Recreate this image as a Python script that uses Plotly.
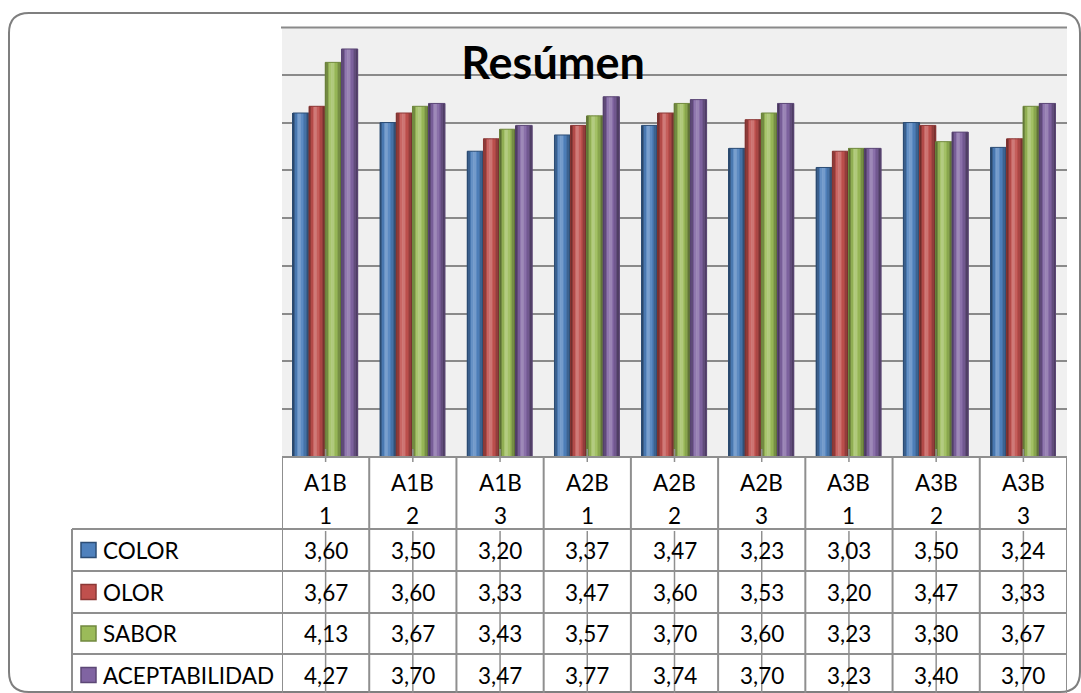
import plotly.graph_objects as go

# ---- data ----
categories = ["A1B1", "A1B2", "A1B3", "A2B1", "A2B2", "A2B3", "A3B1", "A3B2", "A3B3"]
series_names = ["COLOR", "OLOR", "SABOR", "ACEPTABILIDAD"]
color_vals = [3.60, 3.50, 3.20, 3.37, 3.47, 3.23, 3.03, 3.50, 3.24]
olor_vals = [3.67, 3.60, 3.33, 3.47, 3.60, 3.53, 3.20, 3.47, 3.33]
sabor_vals = [4.13, 3.67, 3.43, 3.57, 3.70, 3.60, 3.23, 3.30, 3.67]
acept_vals = [4.27, 3.70, 3.47, 3.77, 3.74, 3.70, 3.23, 3.40, 3.70]
series_vals = [color_vals, olor_vals, sabor_vals, acept_vals]

base_colors = ["#4F81BD", "#C0504D", "#9BBB59", "#8064A2"]
edge_colors = ["#2C4D75", "#8C3836", "#71893F", "#5C4776"]

# ---- layout geometry (pixels) ----
W, H = 1081, 693
PL, PR, PT, PB = 282, 1067, 27, 457          # plot area edges


def px_x(px):
    return (px - PL) / (PR - PL)


def px_y(py):
    return (PB - py) / (PB - PT)


def hex_to_rgb(h):
    h = h.lstrip("#")
    return [int(h[i:i + 2], 16) for i in (0, 2, 4)]


def shade(h, f):
    r, g, b = hex_to_rgb(h)
    if f >= 1:
        k = min(1.0, (f - 1) * 1.6)
        r, g, b = [c + (255 - c) * k for c in (r, g, b)]
    else:
        r, g, b = [c * f for c in (r, g, b)]
    return "#%02x%02x%02x" % tuple(int(round(max(0, min(255, c)))) for c in (r, g, b))


fig = go.Figure()

# cylinder-like shading: each bar drawn as narrow vertical strips
profile = [0.55, 0.74, 0.93, 1.08, 1.15, 1.13, 1.05, 0.97, 0.88, 0.76, 0.62]
bar_w = 0.186
group_start = -0.376
n = len(profile)
for s, (name, vals) in enumerate(zip(series_names, series_vals)):
    off0 = group_start + s * bar_w
    for k, f in enumerate(profile):
        fig.add_trace(go.Bar(
            x=categories, y=vals, name=name,
            offset=off0 + k * bar_w / n, width=bar_w / n + 0.002,
            marker=dict(color=shade(base_colors[s], f), line=dict(width=0)),
            showlegend=False, hoverinfo="skip",
        ))
    # outline of the whole bar
    fig.add_trace(go.Bar(
        x=categories, y=vals, name=name,
        offset=off0, width=bar_w,
        marker=dict(color="rgba(0,0,0,0)", line=dict(color=edge_colors[s], width=1)),
        showlegend=False,
    ))

shapes = []
line_col = "#8f8f8f"

# top gridline at the upper edge of the value range
shapes.append(dict(type="line", xref="paper", yref="paper", x0=px_x(PL - 1), x1=1,
                   y0=px_y(PT + 0.5), y1=px_y(PT + 0.5),
                   line=dict(color="#8a8a8a", width=2), layer="above"))

# rounded outer frame
x0, x1, y0, y1, r = 9, 1080, 13, 692, 20
rx = r / (PR - PL)
ry = r / (PB - PT)
X0, X1, Y0, Y1 = px_x(x0), px_x(x1), px_y(y0), px_y(y1)
path = (f"M {X0 + rx},{Y0} L {X1 - rx},{Y0} Q {X1},{Y0} {X1},{Y0 - ry} "
        f"L {X1},{Y1 + ry} Q {X1},{Y1} {X1 - rx},{Y1} L {X0 + rx},{Y1} "
        f"Q {X0},{Y1} {X0},{Y1 + ry} L {X0},{Y0 - ry} Q {X0},{Y0} {X0 + rx},{Y0} Z")
shapes.append(dict(type="path", xref="paper", yref="paper", path=path,
                   line=dict(color="#7f7f7f", width=2), fillcolor="rgba(0,0,0,0)"))

# data table grid
row_lines = [529, 571, 613, 654]
shapes.append(dict(type="line", xref="paper", yref="paper",
                   x0=px_x(PL), x1=px_x(PR), y0=px_y(PB), y1=px_y(PB),
                   line=dict(color=line_col, width=2)))
for ry_ in row_lines:
    shapes.append(dict(type="line", xref="paper", yref="paper",
                       x0=px_x(72), x1=px_x(PR), y0=px_y(ry_), y1=px_y(ry_),
                       line=dict(color=line_col, width=2)))
for k in range(len(categories) + 1):
    shapes.append(dict(type="line", xref="x", yref="paper",
                       x0=k - 0.5, x1=k - 0.5, y0=px_y(PB), y1=px_y(H + 5),
                       line=dict(color=line_col, width=2)))
shapes.append(dict(type="line", xref="paper", yref="paper",
                   x0=px_x(72), x1=px_x(72), y0=px_y(529), y1=px_y(H + 5),
                   line=dict(color=line_col, width=2)))
# category tick marks and their guide lines through the value rows
for k in range(len(categories)):
    shapes.append(dict(type="line", xref="x", yref="paper", x0=k, x1=k,
                       y0=px_y(449), y1=px_y(462), line=dict(color=line_col, width=1.5)))
    shapes.append(dict(type="line", xref="x", yref="paper", x0=k, x1=k,
                       y0=px_y(531), y1=px_y(H + 5), line=dict(color=line_col, width=1.5)))

# legend keys in the row headers
row_centers = [550, 592, 633.5, 675]
for s, yc in enumerate(row_centers):
    shapes.append(dict(type="rect", xref="paper", yref="paper",
                       x0=px_x(81), x1=px_x(96), y0=px_y(yc - 7.5), y1=px_y(yc + 7.5),
                       fillcolor=base_colors[s], line=dict(color=edge_colors[s], width=1.5)))

annotations = []
font = dict(family="Lato, Carlito, sans-serif", size=22.5, color="#000000")
for k, cat in enumerate(categories):
    annotations.append(dict(xref="x", yref="paper", x=k, y=px_y(483), text=cat[:3],
                            showarrow=False, font=font, xanchor="center", yanchor="middle"))
    annotations.append(dict(xref="x", yref="paper", x=k, y=px_y(515), text=cat[3:],
                            showarrow=False, font=font, xanchor="center", yanchor="middle"))
for s, (name, vals) in enumerate(zip(series_names, series_vals)):
    yc = row_centers[s]
    annotations.append(dict(xref="paper", yref="paper", x=px_x(101), y=px_y(yc), text=name,
                            showarrow=False, font=font, xanchor="left", yanchor="middle"))
    for k, v in enumerate(vals):
        annotations.append(dict(xref="x", yref="paper", x=k, y=px_y(yc),
                                text=f"{v:.2f}".replace(".", ","),
                                showarrow=False, font=font, xanchor="center", yanchor="middle"))

fig.update_layout(
    width=W, height=H,
    margin=dict(l=PL, r=W - PR, t=PT, b=H - PB, pad=0),
    paper_bgcolor="#ffffff",
    plot_bgcolor="#f0f0f0",
    barmode="overlay",
    showlegend=False,
    title=dict(text="<b>Resúmen</b>", x=553 / W, xanchor="center", xref="container",
               y=1 - 63 / H, yanchor="middle", yref="container",
               font=dict(family="Lato, Carlito, sans-serif", size=45, color="#000000")),
    xaxis=dict(range=[-0.5, len(categories) - 0.5], showticklabels=False, ticks="",
               showgrid=False, zeroline=False, showline=False, fixedrange=True),
    yaxis=dict(range=[0, 4.5], dtick=0.5, showticklabels=False, ticks="",
               showgrid=True, gridcolor="#8a8a8a", gridwidth=2, zeroline=False,
               showline=False, fixedrange=True),
    shapes=shapes,
    annotations=annotations,
)

fig.write_html("out.html")
